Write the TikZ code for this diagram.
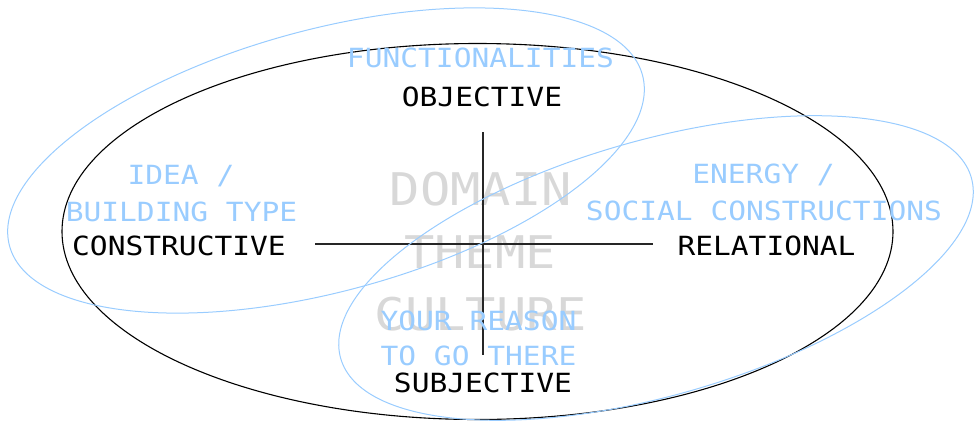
\documentclass[tikz,border=0pt]{standalone}
\usepackage{fontspec}
\newfontfamily\monof[FakeStretch=1.12]{DejaVu Sans Mono}
\definecolor{lblue}{RGB}{153,204,255}
\definecolor{lgray}{RGB}{216,216,216}
\tikzset{
  small/.style={font=\monof\fontsize{26.4}{30}\selectfont, inner sep=0pt, anchor=base},
  big/.style={font=\monof\fontsize{45}{50}\selectfont, inner sep=0pt, anchor=base, text=lgray},
  axis/.style={line width=1.3pt, draw=black!85},
  blueell/.style={draw=lblue, line width=1pt},
  blackell/.style={draw=black, line width=1.1pt},
}
\begin{document}
\begin{tikzpicture}[x=1pt,y=-1pt]
\useasboundingbox (0,0) rectangle (974,426);
% big gray words
\node[big] (domain) at (481,205) {DOMAIN};
\node[big] (theme) at (480,268) {THEME};
\node[big] (culture) at (481,330) {CULTURE};
% black ellipse
\draw[blackell] (477.5,231.5) ellipse [x radius=415.5, y radius=188];
% axes
\coordinate (vtop) at (483,132);
\coordinate (vbot) at (483,355);
\coordinate (hleft) at (315,244);
\coordinate (hright) at (653,244);
\draw[axis] (vtop) -- (vbot);
\draw[axis] (hleft) -- (hright);
% blue ellipses
\draw[blueell, rotate around={15.1:(326,160.5)}] (326,160.5) ellipse [x radius=327.8, y radius=131];
\draw[blueell, rotate around={16:(656,268)}] (656,268) ellipse [x radius=328, y radius=127.5];
% black labels
\node[small] (obj) at (482,106) {OBJECTIVE};
\node[small] (cons) at (179,255) {CONSTRUCTIVE};
\node[small] (rel) at (766.5,255) {RELATIONAL};
\node[small] (subj) at (483,392) {SUBJECTIVE};
% blue labels
\node[small, text=lblue] (func) at (480.5,67) {FUNCTIONALITIES};
\node[small, text=lblue] (idea) at (181,184) {IDEA /};
\node[small, text=lblue] (build) at (181.5,221) {BUILDING TYPE};
\node[small, text=lblue] (energy) at (763.5,183) {ENERGY /};
\node[small, text=lblue] (social) at (764,220) {SOCIAL CONSTRUCTIONS};
\node[small, text=lblue] (reason) at (478.5,330) {YOUR REASON};
\node[small, text=lblue] (there) at (478.5,365) {TO GO THERE};
\end{tikzpicture}
\end{document}
